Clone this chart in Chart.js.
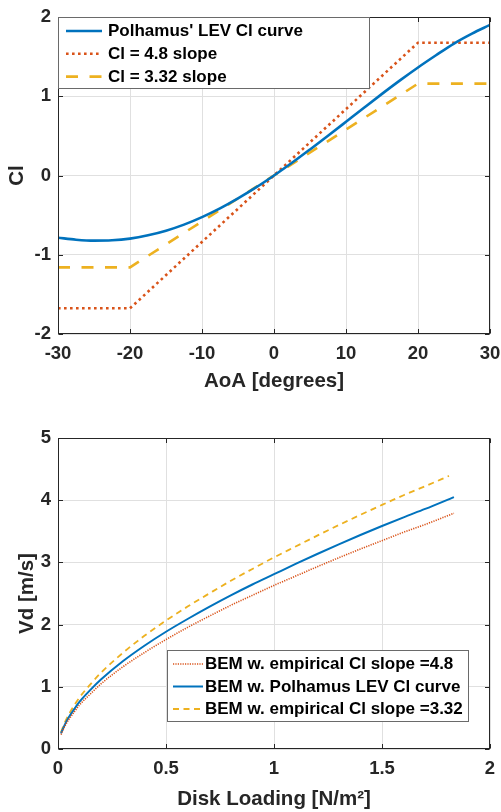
<!DOCTYPE html>
<html><head><meta charset="utf-8">
<script src="https://cdn.jsdelivr.net/npm/chart.js@4"></script>
<style>
html,body{margin:0;padding:0;background:#fff;overflow:hidden;}
#w1{position:absolute;left:0;top:0;width:501px;height:400px;}
#w2{position:absolute;left:0;top:400px;width:501px;height:412px;}
</style></head><body>
<div id="w1"><canvas id="c1"></canvas></div>
<div id="w2"><canvas id="c2"></canvas></div>
<script>
// ---------- Top chart data ----------
const aoa = [-30,-27.5,-25,-22.5,-20,-17.5,-15,-12.5,-10,-7.5,-5,-2.5,0,2.5,5,7.5,10,12.5,15,17.5,20,22.5,25,27.5,30];
const clPolhamus = [-0.785,-0.81,-0.822,-0.818,-0.797,-0.755,-0.697,-0.62,-0.525,-0.415,-0.289,-0.151,0,0.16,0.329,0.502,0.678,0.855,1.03,1.2,1.363,1.517,1.665,1.79,1.9];
const aoaSlope = [-30,-20,20,30];
const clSlope48 = [-1.676,-1.676,1.676,1.676];
const clSlope332 = [-1.159,-1.159,1.159,1.159];
const topXTicks = [-30,-20,-10,0,10,20,30];
const topYTicks = [-2,-1,0,1,2];
const topLabels = ["Polhamus' LEV Cl curve","Cl = 4.8 slope","Cl = 3.32 slope"];

// ---------- Bottom chart data ----------
const diskLoading = [0.014,0.03,0.05,0.075,0.1,0.15,0.2,0.3,0.4,0.5,0.6,0.7,0.8,0.9,1.0,1.1,1.2,1.3,1.4,1.5,1.6,1.7,1.833];
const vdSlope48  = [0.23,0.355,0.475,0.595,0.71,0.885,1.05,1.32,1.55,1.76,1.955,2.135,2.31,2.47,2.63,2.78,2.93,3.075,3.215,3.35,3.485,3.61,3.79];
const vdPolhamus = [0.25,0.38,0.51,0.64,0.76,0.95,1.12,1.41,1.66,1.885,2.09,2.285,2.47,2.645,2.81,2.975,3.135,3.29,3.44,3.585,3.725,3.86,4.05];
const diskLoading332 = [0.014,0.03,0.05,0.075,0.1,0.15,0.2,0.3,0.4,0.5,0.6,0.7,0.8,0.9,1.0,1.1,1.2,1.3,1.4,1.5,1.6,1.7,1.81];
const vdSlope332 = [0.27,0.415,0.555,0.70,0.83,1.04,1.23,1.545,1.82,2.065,2.29,2.50,2.705,2.895,3.08,3.255,3.43,3.60,3.765,3.925,4.08,4.225,4.39];
const botXTicks = [0,0.5,1,1.5,2];
const botYTicks = [0,1,2,3,4,5];
const botLabels = ["BEM w. empirical Cl slope =4.8","BEM w. Polhamus LEV Cl curve","BEM w. empirical Cl slope =3.32"];

const BLUE='#0072BD', RED='#D95319', YEL='#EDB120', AX='#262626';
const FAM='"Liberation Sans", Arial, Helvetica, sans-serif';
Chart.defaults.font.family = FAM;
Chart.defaults.animation = false;

const zip = (xs, ys) => xs.map((v,i)=>({x:v,y:ys[i]}));

const boxPlugin = {
  id:'matlabBox',
  afterDraw(chart){
    const {ctx, chartArea:a, scales:{x,y}} = chart;
    const o = chart.options.plugins.matlabBox || {};
    ctx.save();
    ctx.strokeStyle = AX; ctx.lineWidth = 1;
    const L = 4.5;
    const l = Math.round(a.left)+0.5, r = Math.round(a.right)-0.5, t = Math.round(a.top)+0.5, b = Math.round(a.bottom)-0.5;
    ctx.beginPath();
    x.ticks.forEach(tk=>{const px=Math.round(x.getPixelForValue(tk.value))+0.5; ctx.moveTo(px,b); ctx.lineTo(px,b-L); ctx.moveTo(px,t); ctx.lineTo(px,t+L);});
    y.ticks.forEach(tk=>{const py=Math.round(y.getPixelForValue(tk.value))+0.5; ctx.moveTo(l,py); ctx.lineTo(l+L,py); ctx.moveTo(r,py); ctx.lineTo(r-L,py);});
    ctx.stroke();
    ctx.strokeRect(l, t, r-l, b-t);
    // legend
    const lg = o.legend;
    if (lg) {
      const bx = a.left + lg.dx, by = a.top + lg.dy;
      ctx.fillStyle = '#fff';
      ctx.fillRect(bx, by, lg.w, lg.h);
      ctx.strokeStyle = '#6a6a6a'; ctx.lineWidth = 1;
      ctx.strokeRect(Math.round(bx)+0.5, Math.round(by)+0.5, lg.w-1, lg.h-1);
      ctx.font = 'bold 17px ' + FAM;
      ctx.textBaseline = 'middle'; ctx.textAlign='left';
      chart.data.datasets.forEach((ds,i)=>{
        const yy = by + lg.row0 + i*lg.rowGap;
        ctx.save();
        ctx.strokeStyle = ds.borderColor; ctx.lineWidth = ds.borderWidth;
        ctx.setLineDash(ds.borderDash || []);
        ctx.lineCap = 'butt';
        ctx.beginPath(); ctx.moveTo(bx+lg.lineX, yy); ctx.lineTo(bx+lg.lineX+lg.lineLen, yy); ctx.stroke();
        ctx.restore();
        ctx.fillStyle = '#000';
        ctx.fillText(ds.label, bx+lg.textX, yy+0.5);
      });
    }
    ctx.restore();
  }
};

function setTicks(arr){ return function(scale){ scale.ticks = arr.map(v=>({value:v})); }; }
function fitX(h){ return s=>{ s.height=h; s.paddingLeft=0; s.paddingRight=0; }; }
function fitY(w){ return s=>{ s.width=w; s.paddingTop=0; s.paddingBottom=0; }; }
const tickFont = {size:18.5, weight:'bold'};
const titleFont = {size:20.5, weight:'bold'};
const gridOpt = {color:'#e0e0e0', drawTicks:false};

new Chart(document.getElementById('c1'), {
  type:'line',
  data:{datasets:[
    {label:topLabels[0], data:zip(aoa, clPolhamus), borderColor:BLUE, borderWidth:2.6, pointRadius:0, cubicInterpolationMode:'monotone'},
    {label:topLabels[1], data:zip(aoaSlope, clSlope48), borderColor:RED, borderWidth:2.6, borderDash:[2.6,3.4], pointRadius:0},
    {label:topLabels[2], data:zip(aoaSlope, clSlope332), borderColor:YEL, borderWidth:2.6, borderDash:[12,11.5], pointRadius:0}
  ]},
  options:{
    responsive:true, maintainAspectRatio:false,
    layout:{padding:{top:17,right:11,left:0,bottom:0}},
    plugins:{legend:{display:false}, tooltip:{enabled:false},
      matlabBox:{legend:{dx:0,dy:0,w:312,h:72,row0:14,rowGap:22.8,lineX:8,lineLen:36,textX:50}}},
    scales:{
      x:{type:'linear', min:-30, max:30, afterBuildTicks:setTicks(topXTicks),
         ticks:{font:tickFont, color:AX, padding:8.7, maxRotation:0, callback:v=>String(v)},
         grid:gridOpt, border:{display:false},
         title:{display:true, text:'AoA [degrees]', font:titleFont, color:AX, padding:{top:0,bottom:6.7}},
         afterFit:fitX(66)},
      y:{type:'linear', min:-2, max:2, afterBuildTicks:setTicks(topYTicks),
         ticks:{font:tickFont, color:AX, padding:7, callback:v=>String(v)},
         grid:gridOpt, border:{display:false},
         title:{display:true, text:'Cl', font:titleFont, color:AX, padding:{top:4.7,bottom:0}},
         afterFit:fitY(58)}
    }
  },
  plugins:[boxPlugin]
});

new Chart(document.getElementById('c2'), {
  type:'line',
  data:{datasets:[
    {label:botLabels[0], data:zip(diskLoading, vdSlope48), borderColor:RED, borderWidth:1.6, borderDash:[1.2,1.2], pointRadius:0, cubicInterpolationMode:'monotone'},
    {label:botLabels[1], data:zip(diskLoading, vdPolhamus), borderColor:BLUE, borderWidth:2, pointRadius:0, cubicInterpolationMode:'monotone'},
    {label:botLabels[2], data:zip(diskLoading332, vdSlope332), borderColor:YEL, borderWidth:1.8, borderDash:[6,4.5], pointRadius:0, cubicInterpolationMode:'monotone'}
  ]},
  options:{
    responsive:true, maintainAspectRatio:false,
    layout:{padding:{top:38,right:11,left:0,bottom:0}},
    plugins:{legend:{display:false}, tooltip:{enabled:false},
      matlabBox:{legend:{dx:109,dy:212,w:302,h:72,row0:14,rowGap:22.5,lineX:6,lineLen:30,textX:38}}},
    scales:{
      x:{type:'linear', min:0, max:2, afterBuildTicks:setTicks(botXTicks),
         ticks:{font:tickFont, color:AX, padding:8.7, maxRotation:0, callback:v=>String(v)},
         grid:gridOpt, border:{display:false},
         title:{display:true, text:'Disk Loading [N/m²]', font:titleFont, color:AX, padding:{top:0,bottom:0}},
         afterFit:fitX(63)},
      y:{type:'linear', min:0, max:5, afterBuildTicks:setTicks(botYTicks),
         ticks:{font:tickFont, color:AX, padding:7, callback:v=>String(v)},
         grid:gridOpt, border:{display:false},
         title:{display:true, text:'Vd [m/s]', font:titleFont, color:AX, padding:{top:15,bottom:0}},
         afterFit:fitY(58)}
    }
  },
  plugins:[boxPlugin]
});
</script>
</body></html>
